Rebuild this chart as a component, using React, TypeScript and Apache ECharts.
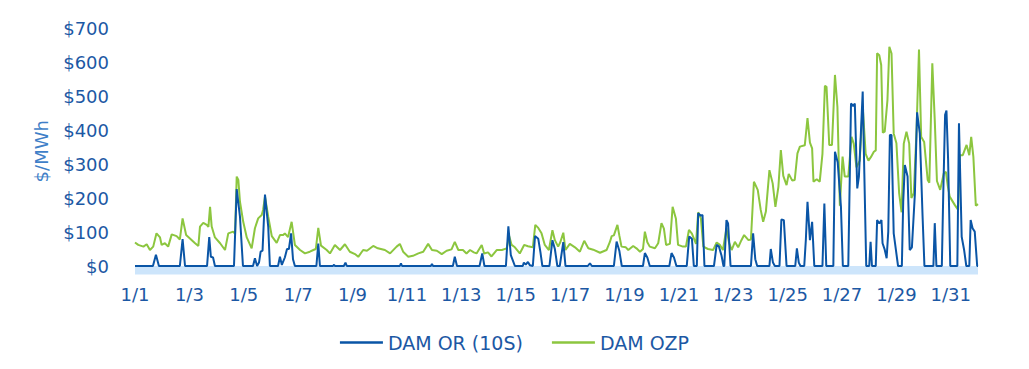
import React, { useEffect, useRef } from "react";
import * as echarts from "echarts";

// x = day offset from Jan 1 00:00 (0 .. 31), y = $/MWh
const orPoints: [number, number][] = [
  [0, 0], [0.66, 0], [0.77, 33], [0.88, 0], [1.65, 0], [1.75, 79], [1.84, 0], [2.65, 0], [2.73, 85], [2.79, 27], [2.87, 25], [2.94, 0],
  [3.64, 0], [3.74, 226], [3.86, 145], [3.97, 0], [4.34, 0], [4.41, 23], [4.49, 0], [4.56, 10], [4.62, 42], [4.69, 45], [4.78, 210], [4.9, 115], [4.96, 0],
  [5.26, 0], [5.33, 27], [5.4, 3], [5.51, 25], [5.59, 50], [5.66, 50], [5.74, 96], [5.81, 20], [5.88, 0], [6.67, 0], [6.74, 66], [6.8, 0],
  [7.28, 0], [7.32, 4], [7.35, 0], [7.68, 0], [7.74, 10], [7.79, 0], [9.74, 0], [9.78, 8], [9.82, 0], [10.88, 0], [10.92, 6], [10.96, 0],
  [11.69, 0], [11.76, 27], [11.84, 0], [12.67, 0], [12.77, 37], [12.85, 0], [13.64, 0], [13.73, 117], [13.82, 32], [13.9, 15], [13.97, 0],
  [14.26, 0], [14.3, 10], [14.37, 4], [14.45, 12], [14.52, 2], [14.63, 0], [14.71, 88], [14.83, 80], [14.91, 40], [14.98, 0],
  [15.24, 0], [15.35, 76], [15.44, 50], [15.53, 0], [15.62, 0], [15.75, 70], [15.83, 0], [16.65, 0], [16.73, 8], [16.8, 0],
  [17.61, 0], [17.71, 72], [17.81, 45], [17.9, 0], [18.68, 0], [18.75, 38], [18.84, 25], [18.93, 0], [19.65, 0], [19.73, 38], [19.82, 25], [19.91, 0],
  [20.29, 0], [20.38, 87], [20.48, 80], [20.55, 0], [20.66, 0], [20.71, 155], [20.81, 148], [20.87, 150], [20.94, 0],
  [21.29, 0], [21.39, 62], [21.47, 58], [21.57, 30], [21.64, 0], [21.67, 0], [21.75, 135], [21.81, 125], [21.9, 0],
  [22.65, 0], [22.73, 96], [22.81, 20], [22.88, 0], [23.33, 0], [23.38, 50], [23.46, 10], [23.53, 0], [23.7, 0], [23.77, 137], [23.86, 135], [23.96, 0],
  [24.28, 0], [24.34, 52], [24.41, 10], [24.47, 0], [24.61, 0], [24.67, 78], [24.73, 189], [24.82, 76], [24.9, 130], [24.98, 0],
  [25.28, 0], [25.35, 184], [25.42, 0], [25.68, 0], [25.74, 336], [25.84, 305], [25.96, 174], [26.03, 0],
  [26.23, 0], [26.33, 478], [26.41, 470], [26.47, 478], [26.56, 228], [26.62, 263], [26.69, 385], [26.76, 513], [26.82, 272], [26.89, 0],
  [27.0, 0], [27.05, 71], [27.1, 0], [27.24, 0], [27.29, 135], [27.37, 125], [27.45, 135], [27.49, 67], [27.57, 48], [27.64, 23], [27.7, 101],
  [27.76, 385], [27.82, 385], [27.9, 96], [27.98, 48], [28.06, 0], [28.2, 0], [28.25, 189], [28.31, 297], [28.41, 263], [28.49, 47], [28.57, 55],
  [28.68, 214], [28.76, 452], [28.86, 390], [28.96, 150], [29.03, 0], [29.36, 0], [29.41, 126], [29.47, 0], [29.67, 0], [29.72, 204],
  [29.79, 445], [29.84, 457], [29.9, 315], [29.98, 0], [30.24, 0], [30.3, 420], [30.4, 86], [30.49, 47], [30.57, 0], [30.68, 0],
  [30.73, 135], [30.8, 111], [30.88, 101], [30.97, 0], [31, 0],
];

const ozpPoints: [number, number][] = [
  [0, 69], [0.12, 62], [0.31, 57], [0.43, 64], [0.55, 47], [0.67, 57], [0.79, 96], [0.92, 84], [0.98, 62], [1.1, 67], [1.22, 57], [1.35, 93],
  [1.53, 88], [1.65, 78], [1.75, 140], [1.88, 91], [2.02, 81], [2.21, 67], [2.33, 59], [2.39, 116], [2.51, 127], [2.64, 121], [2.7, 115],
  [2.76, 174], [2.82, 116], [2.94, 84], [3.13, 67], [3.31, 47], [3.43, 96], [3.61, 101], [3.68, 95], [3.74, 263], [3.8, 253], [3.86, 189],
  [3.98, 130], [4.11, 84], [4.29, 52], [4.41, 111], [4.53, 140], [4.66, 150], [4.71, 165], [4.78, 204], [4.9, 145], [5.03, 88], [5.21, 68],
  [5.33, 91], [5.45, 91], [5.51, 96], [5.63, 85], [5.76, 130], [5.88, 62], [6.07, 47], [6.25, 37], [6.43, 42], [6.56, 47], [6.65, 50],
  [6.74, 112], [6.84, 60], [7.05, 47], [7.17, 37], [7.35, 62], [7.54, 47], [7.72, 64], [7.9, 42], [8.09, 35], [8.21, 27], [8.39, 47],
  [8.53, 45], [8.76, 59], [8.93, 52], [9.19, 47], [9.38, 37], [9.62, 57], [9.74, 65], [9.86, 42], [10.05, 27], [10.22, 30], [10.42, 37],
  [10.6, 42], [10.78, 65], [10.92, 47], [11.1, 45], [11.28, 35], [11.46, 45], [11.64, 49], [11.76, 71], [11.89, 47], [12.06, 47], [12.19, 37],
  [12.32, 47], [12.46, 40], [12.56, 37], [12.75, 62], [12.84, 37], [12.98, 40], [13.11, 28], [13.3, 47], [13.49, 47], [13.67, 52], [13.76, 88],
  [13.85, 62], [13.97, 55], [14.15, 37], [14.31, 62], [14.45, 58], [14.63, 55], [14.72, 121], [14.83, 112], [14.95, 96], [15.07, 62],
  [15.22, 47], [15.35, 105], [15.44, 76], [15.56, 57], [15.64, 70], [15.75, 98], [15.83, 47], [15.99, 65], [16.18, 55], [16.36, 42],
  [16.52, 74], [16.67, 52], [16.85, 48], [17.1, 39], [17.34, 47], [17.46, 70], [17.53, 88], [17.61, 90], [17.74, 121], [17.81, 90],
  [17.89, 57], [18.05, 55], [18.14, 47], [18.32, 59], [18.44, 52], [18.57, 42], [18.68, 50], [18.75, 101], [18.84, 70], [18.93, 57],
  [19.12, 52], [19.24, 67], [19.36, 126], [19.45, 110], [19.53, 62], [19.67, 65], [19.77, 174], [19.89, 140], [19.97, 62], [20.15, 57],
  [20.26, 57], [20.37, 106], [20.48, 95], [20.63, 65], [20.71, 158], [20.81, 140], [20.9, 57], [21.07, 50], [21.26, 47], [21.39, 69],
  [21.51, 62], [21.62, 47], [21.75, 111], [21.84, 70], [21.94, 47], [22.06, 71], [22.18, 55], [22.3, 76], [22.4, 91], [22.56, 76],
  [22.65, 78], [22.76, 248], [22.9, 224], [23.01, 165], [23.1, 130], [23.2, 160], [23.33, 282], [23.45, 243], [23.55, 174], [23.66, 233],
  [23.75, 341], [23.84, 265], [23.96, 238], [24.04, 271], [24.17, 251], [24.26, 253], [24.36, 331], [24.45, 351], [24.63, 355], [24.73, 435],
  [24.82, 363], [24.9, 346], [24.95, 248], [25.07, 255], [25.18, 248], [25.28, 330], [25.37, 530], [25.43, 527], [25.53, 356], [25.63, 356],
  [25.74, 562], [25.83, 468], [25.92, 177], [26.02, 322], [26.1, 263], [26.23, 263], [26.35, 380], [26.43, 360], [26.53, 290], [26.65, 310],
  [26.76, 470], [26.87, 330], [26.97, 310], [27.06, 320], [27.17, 336], [27.24, 340], [27.29, 626], [27.37, 620], [27.44, 591], [27.5, 392],
  [27.57, 395], [27.67, 488], [27.74, 645], [27.82, 625], [27.9, 390], [28.0, 361], [28.1, 214], [28.19, 158], [28.27, 360], [28.37, 395],
  [28.47, 360], [28.55, 200], [28.64, 214], [28.74, 400], [28.83, 637], [28.91, 380], [29.02, 365], [29.15, 253], [29.21, 245], [29.32, 596],
  [29.41, 429], [29.49, 250], [29.61, 224], [29.74, 272], [29.82, 277], [29.89, 235], [29.96, 204], [30.15, 179], [30.27, 165], [30.33, 326],
  [30.44, 326], [30.58, 356], [30.68, 326], [30.75, 380], [30.83, 321], [30.92, 177], [31, 182],
];

const seriesNames = ["DAM OR (10S)", "DAM OZP"];
const seriesColors = ["#0a55a6", "#8cc63f"];
const yTicks = [0, 100, 200, 300, 400, 500, 600, 700];
const bandRange = [-25, 0];

const labelColor = "#1c58a4";
const font = "DejaVu Sans";

export default function App() {
  const ref = useRef<HTMLDivElement>(null);
  useEffect(() => {
    if (!ref.current) return;
    const chart = echarts.init(ref.current, null, { renderer: "svg" });
    chart.setOption({
      animation: false,
      grid: { left: 135, right: 51, top: 28, bottom: 94.5 },
      legend: {
        data: seriesNames,
        top: 328,
        left: "center",
        icon: "rect",
        itemWidth: 43,
        itemHeight: 2.5,
        itemGap: 29,
        textStyle: { color: labelColor, fontSize: 19, fontFamily: font },
      },
      xAxis: {
        type: "value",
        min: 0,
        max: 31,
        interval: 2,
        axisLine: { show: false },
        axisTick: { show: false },
        splitLine: { show: false },
        axisLabel: {
          showMaxLabel: false,
          color: labelColor,
          fontSize: 18,
          fontFamily: font,
          margin: 11,
          formatter: (v: number) => (v % 2 === 0 && v <= 30 ? "1/" + (v + 1) : ""),
        },
      },
      yAxis: {
        type: "value",
        min: bandRange[0],
        max: 700,
        interval: 25,
        name: "$/MWh",
        nameLocation: "middle",
        nameGap: 85,
        nameTextStyle: { color: "#3f7fc8", fontSize: 18, fontFamily: font },
        axisLine: { show: false },
        axisTick: { show: false },
        splitLine: { show: false },
        axisLabel: {
          color: labelColor,
          fontSize: 18,
          fontFamily: font,
          margin: 26,
          formatter: (v: number) => (yTicks.indexOf(v) >= 0 ? "$" + v : ""),
        },
      },
      series: [
        {
          name: seriesNames[1],
          type: "line",
          data: ozpPoints,
          showSymbol: false,
          color: seriesColors[1],
          itemStyle: { color: seriesColors[1] },
          lineStyle: { color: seriesColors[1], width: 2 },
          z: 2,
          markArea: {
            silent: true,
            itemStyle: { color: "#cde5fb" },
            data: [[{ xAxis: 0, yAxis: bandRange[0] }, { xAxis: 31, yAxis: bandRange[1] }]],
          },
        },
        {
          name: seriesNames[0],
          type: "line",
          data: orPoints,
          showSymbol: false,
          color: seriesColors[0],
          itemStyle: { color: seriesColors[0] },
          lineStyle: { color: seriesColors[0], width: 2 },
          z: 3,
        },
      ],
    });
    return () => chart.dispose();
  }, []);
  return (
    <div
      ref={ref}
      style={{ position: "absolute", left: 0, top: 0, width: 1029, height: 369, background: "#fff" }}
    />
  );
}
